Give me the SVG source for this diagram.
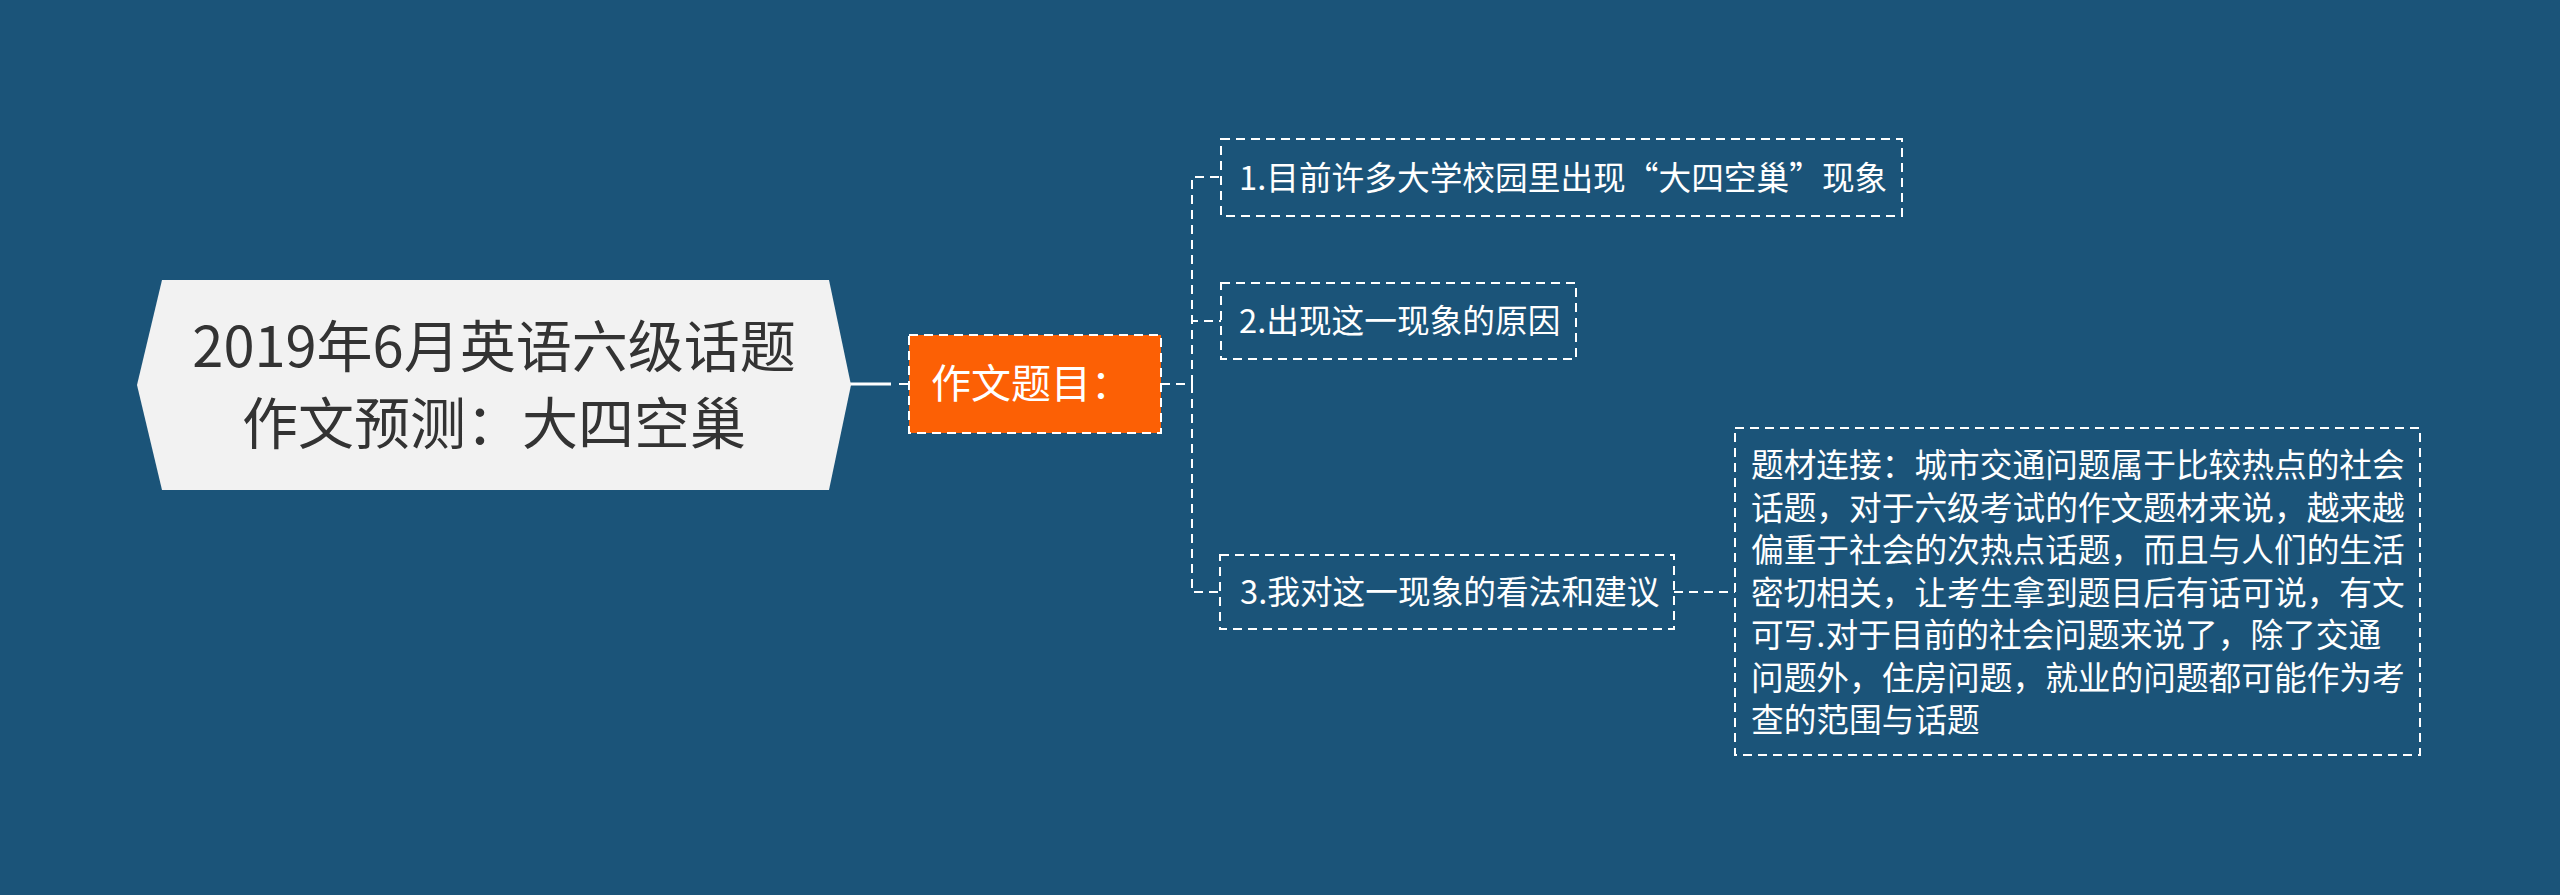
<svg xmlns="http://www.w3.org/2000/svg" width="2560" height="895" viewBox="0 0 2560 895">
<style>
.txt{font-family:"Noto Sans CJK SC","Microsoft YaHei",sans-serif;}
.root-t{font-size:56px;fill:#333333;}
.l1-t{font-size:40px;fill:#ffffff;}
.l2-t{font-size:32.7px;fill:#ffffff;}
.dbox{fill:none;stroke:#ffffff;stroke-width:2;stroke-dasharray:9 6;}
.conn{fill:none;stroke:#ffffff;stroke-width:2;stroke-dasharray:9 6;}
</style>
<rect x="0" y="0" width="2560" height="895" fill="#1b5479"/>
<g id="connectors">
<line x1="850" y1="384" x2="891" y2="384" stroke="#ffffff" stroke-width="3"/>
<line x1="899" y1="384" x2="909" y2="384" stroke="#ffffff" stroke-width="2"/>
<path class="conn" d="M1161,384 H1192"/>
<path class="conn" d="M1192,384 V177 H1221"/>
<path class="conn" d="M1192,384 V321 H1221"/>
<path class="conn" d="M1192,384 V592 H1220"/>
<path class="conn" d="M1674,592 H1735"/>
</g>
<g id="root">
<polygon points="137,385 162,280 829,280 851,385 829,490 162,490" fill="#f2f2f2"/>
<text class="txt root-t" x="494" y="367" text-anchor="middle">2019年6月英语六级话题</text>
<text class="txt root-t" x="494" y="444" text-anchor="middle">作文预测：大四空巢</text>
</g>
<g id="topic">
<rect x="909" y="335" width="252" height="98" fill="#fc6005"/>
<rect class="dbox" x="909" y="335" width="252" height="98"/>
<text class="txt l1-t" x="931" y="398">作文题目：</text>
</g>
<g id="child1">
<rect class="dbox" x="1221" y="139" width="681" height="77"/>
<text class="txt l2-t" x="1239" y="190">1.目前许多大学校园里出现“大四空巢”现象</text>
</g>
<g id="child2">
<rect class="dbox" x="1221" y="283" width="355" height="76"/>
<text class="txt l2-t" x="1239" y="333">2.出现这一现象的原因</text>
</g>
<g id="child3">
<rect class="dbox" x="1220" y="555" width="454" height="74"/>
<text class="txt l2-t" x="1240" y="604">3.我对这一现象的看法和建议</text>
</g>
<g id="detail">
<rect class="dbox" x="1735" y="428" width="685" height="327"/>
<text class="txt l2-t">
<tspan x="1751" y="477">题材连接：城市交通问题属于比较热点的社会</tspan>
<tspan x="1751" y="519.5">话题，对于六级考试的作文题材来说，越来越</tspan>
<tspan x="1751" y="562">偏重于社会的次热点话题，而且与人们的生活</tspan>
<tspan x="1751" y="604.5">密切相关，让考生拿到题目后有话可说，有文</tspan>
<tspan x="1751" y="647">可写.对于目前的社会问题来说了，除了交通</tspan>
<tspan x="1751" y="689.5">问题外，住房问题，就业的问题都可能作为考</tspan>
<tspan x="1751" y="732">查的范围与话题</tspan>
</text>
</g>
</svg>
